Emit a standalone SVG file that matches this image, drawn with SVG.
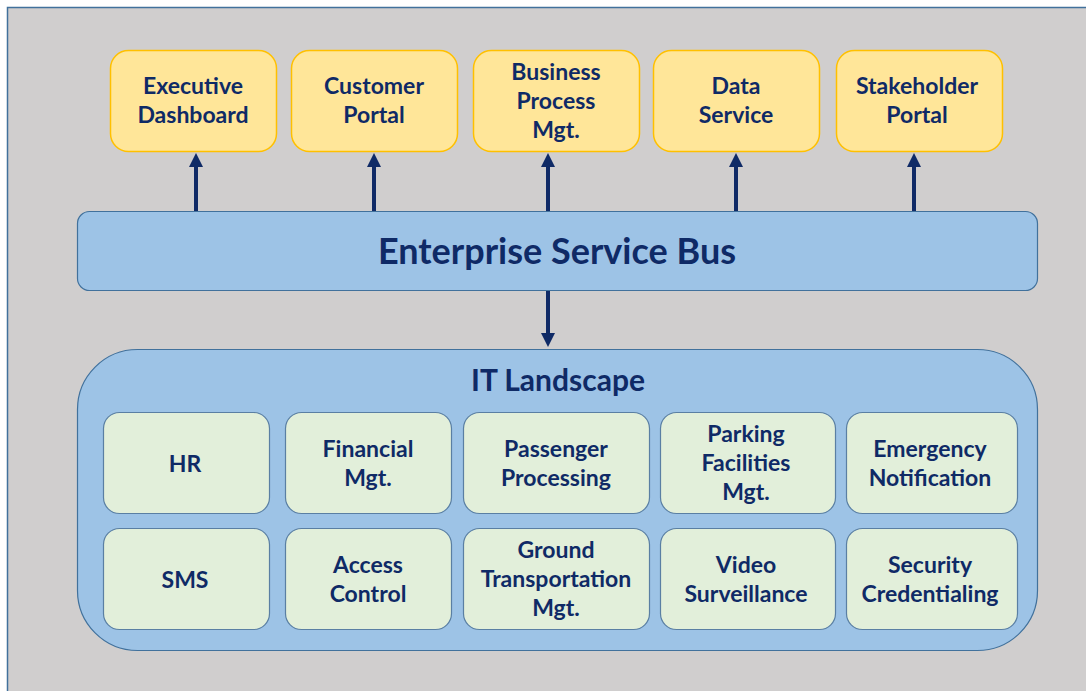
<svg xmlns="http://www.w3.org/2000/svg" width="1086" height="691" viewBox="0 0 1086 691">
<defs>
<style>
.t{font-family:Lato,"Open Sans","Liberation Sans",sans-serif;font-weight:bold;fill:#0f2a66;text-anchor:middle;}
.s{font-size:23px;}
.top{fill:#ffe699;stroke:#ffc000;stroke-width:1.5;}
.bus{fill:#9dc3e6;stroke:#41719c;stroke-width:1.2;}
.app{fill:#e2efda;stroke:#5a7fa3;stroke-width:1.2;}
.c{stroke:#0f2a66;stroke-width:4;fill:none;}
.h{fill:#0f2a66;}
</style>
</defs>
<rect x="0" y="0" width="1086" height="691" fill="#ffffff"/>
<rect x="7.5" y="7.5" width="1090" height="700" fill="#d0cece" stroke="#41719c" stroke-width="1.5"/>

<g id="connectors">
<line class="c" x1="196" y1="211" x2="196" y2="166"/><polygon class="h" points="189,167 203,167 196,153"/>
<line class="c" x1="374" y1="211" x2="374" y2="166"/><polygon class="h" points="367,167 381,167 374,153"/>
<line class="c" x1="548" y1="211" x2="548" y2="166"/><polygon class="h" points="541,167 555,167 548,153"/>
<line class="c" x1="736" y1="211" x2="736" y2="166"/><polygon class="h" points="729,167 743,167 736,153"/>
<line class="c" x1="914" y1="211" x2="914" y2="166"/><polygon class="h" points="907,167 921,167 914,153"/>
<line class="c" x1="548" y1="291" x2="548" y2="334"/><polygon class="h" points="541,333 555,333 548,347"/>
</g>

<g id="executive-dashboard"><rect class="top" x="110.5" y="50.5" width="166" height="101" rx="18"/><text class="t s" x="193" y="94">Executive</text><text class="t s" x="193" y="123">Dashboard</text></g>
<g id="customer-portal"><rect class="top" x="291.5" y="50.5" width="166" height="101" rx="18"/><text class="t s" x="374" y="94">Customer</text><text class="t s" x="374" y="123">Portal</text></g>
<g id="business-process-mgt"><rect class="top" x="473.5" y="50.5" width="166" height="101" rx="18"/><text class="t s" x="556" y="80">Business</text><text class="t s" x="556" y="109">Process</text><text class="t s" x="556" y="138">Mgt.</text></g>
<g id="data-service"><rect class="top" x="653.5" y="50.5" width="166" height="101" rx="18"/><text class="t s" x="736" y="94">Data</text><text class="t s" x="736" y="123">Service</text></g>
<g id="stakeholder-portal"><rect class="top" x="836.5" y="50.5" width="166" height="101" rx="18"/><text class="t s" x="917" y="94">Stakeholder</text><text class="t s" x="917" y="123">Portal</text></g>

<g id="enterprise-service-bus"><rect class="bus" x="77.5" y="211.5" width="960" height="79" rx="12"/><text class="t" x="557" y="264" font-size="36">Enterprise Service Bus</text></g>

<g id="it-landscape"><rect class="bus" x="77.5" y="349.5" width="960" height="301" rx="60"/><text class="t" x="558" y="391" font-size="30">IT Landscape</text></g>

<g id="hr"><rect class="app" x="103.5" y="412.5" width="166" height="101" rx="16"/><text class="t s" x="185" y="472">HR</text></g>
<g id="financial-mgt"><rect class="app" x="285.5" y="412.5" width="166" height="101" rx="16"/><text class="t s" x="368" y="457">Financial</text><text class="t s" x="368" y="486">Mgt.</text></g>
<g id="passenger-processing"><rect class="app" x="463.5" y="412.5" width="186" height="101" rx="16"/><text class="t s" x="556" y="457">Passenger</text><text class="t s" x="556" y="486">Processing</text></g>
<g id="parking-facilities-mgt"><rect class="app" x="660.5" y="412.5" width="175" height="101" rx="16"/><text class="t s" x="746" y="442">Parking</text><text class="t s" x="746" y="471">Facilities</text><text class="t s" x="746" y="500">Mgt.</text></g>
<g id="emergency-notification"><rect class="app" x="846.5" y="412.5" width="171" height="101" rx="16"/><text class="t s" x="930" y="457">Emergency</text><text class="t s" x="930" y="486">Notification</text></g>

<g id="sms"><rect class="app" x="103.5" y="528.5" width="166" height="101" rx="16"/><text class="t s" x="185" y="588">SMS</text></g>
<g id="access-control"><rect class="app" x="285.5" y="528.5" width="166" height="101" rx="16"/><text class="t s" x="368" y="573">Access</text><text class="t s" x="368" y="602">Control</text></g>
<g id="ground-transportation-mgt"><rect class="app" x="463.5" y="528.5" width="186" height="101" rx="16"/><text class="t s" x="556" y="558">Ground</text><text class="t s" x="556" y="587">Transportation</text><text class="t s" x="556" y="616">Mgt.</text></g>
<g id="video-surveillance"><rect class="app" x="660.5" y="528.5" width="175" height="101" rx="16"/><text class="t s" x="746" y="573">Video</text><text class="t s" x="746" y="602">Surveillance</text></g>
<g id="security-credentialing"><rect class="app" x="846.5" y="528.5" width="171" height="101" rx="16"/><text class="t s" x="930" y="573">Security</text><text class="t s" x="930" y="602">Credentialing</text></g>
</svg>
